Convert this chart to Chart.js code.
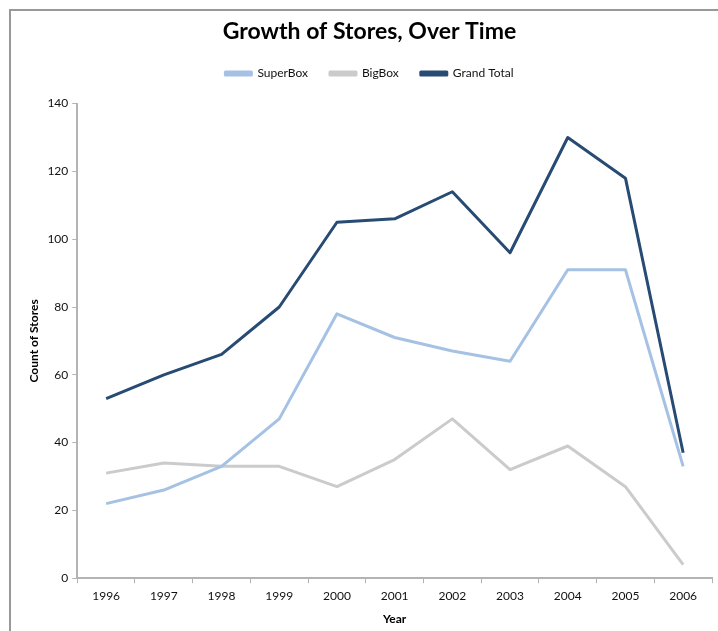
<!DOCTYPE html>
<html>
<head>
<meta charset="utf-8">
<script src="https://cdn.jsdelivr.net/npm/chart.js@4/dist/chart.umd.min.js"></script>
<style>
  html, body { margin: 0; padding: 0; background: #fff; }
  #wrap { width: 718px; height: 631px; }
</style>
</head>
<body>
<div id="wrap"><canvas id="chart" width="718" height="631"></canvas></div>
<script>
// years on the x axis
const years = ["1996", "1997", "1998", "1999", "2000", "2001", "2002", "2003", "2004", "2005", "2006"];
// store counts per year
const superBox = [22, 26, 33, 47, 78, 71, 67, 64, 91, 91, 33];
const bigBox = [31, 34, 33, 33, 27, 35, 47, 32, 39, 27, 4];
const grandTotal = [53, 60, 66, 80, 105, 106, 114, 96, 130, 118, 37];

const fontFamily = "Lato, 'Open Sans', sans-serif";
const axisColor = "#b4b4b4";

// grey frame round the chart, like the spreadsheet border
const framePlugin = {
  id: "frame",
  beforeDraw(chart) {
    const ctx = chart.ctx;
    ctx.save();
    ctx.fillStyle = "#fff";
    ctx.fillRect(0, 0, chart.width, chart.height);
    ctx.strokeStyle = "#999";
    ctx.lineWidth = 2;
    ctx.beginPath();
    ctx.moveTo(10, chart.height);
    ctx.lineTo(10, 10);
    ctx.lineTo(chart.width, 10);
    ctx.stroke();
    ctx.restore();
  }
};

// leave some room under the legend before the plot starts
const legendGap = {
  id: "legendGap",
  beforeUpdate(chart) {
    const legend = chart.legend;
    if (legend && !legend._gapPatched) {
      const fit = legend.fit;
      legend.fit = function () {
        fit.call(this);
        this.height += 14;
      };
      legend._gapPatched = true;
    }
  }
};

function lineSet(label, data, color) {
  return {
    "label": label,
    "data": data,
    "borderColor": color,
    "backgroundColor": color,
    "borderWidth": 3,
    "pointRadius": 0,
    "pointHoverRadius": 0,
    "fill": false,
    "tension": 0,
    "borderJoinStyle": "round",
  };
}

new Chart(document.getElementById("chart"), {
  "type": "line",
  "data": {
    "labels": years,
    "datasets": [
      lineSet("SuperBox", superBox, "#a5c2e4"),
      lineSet("BigBox", bigBox, "#cbcbcb"),
      lineSet("Grand Total", grandTotal, "#284b74"),
    ],
  },
  "options": {
    "responsive": false,
    "animation": false,
    "layout": {
      "padding": { "left": 27, "right": 6, "top": 14, "bottom": 5 },
    },
    "plugins": {
      "title": {
        "display": true,
        "text": "Growth of Stores, Over Time",
        "color": "#000",
        "font": { "family": fontFamily, "size": 23, "weight": "bold" },
        "padding": { "top": 4, "bottom": 0 },
      },
      "legend": {
        "position": "top",
        "labels": {
          "color": "#111",
          "font": { "family": fontFamily, "size": 12 },
          "boxWidth": 26,
          "boxHeight": 3,
          "padding": 22,
        },
      },
      "tooltip": { "enabled": false },
    },
    "scales": {
      "x": {
        "offset": true,
        "grid": {
          "drawOnChartArea": false,
          "drawTicks": true,
          "tickLength": 5,
          "color": axisColor,
          "offset": true,
        },
        "border": { "color": axisColor, "width": 2 },
        "ticks": {
          "color": "#111",
          "font": { "family": fontFamily, "size": 12 },
          "padding": 6,
          "maxRotation": 0,
        },
        "title": {
          "display": true,
          "text": "Year",
          "color": "#000",
          "font": { "family": fontFamily, "size": 12, "weight": "bold" },
          "padding": { "top": 2, "bottom": 0 },
        },
      },
      "y": {
        "min": 0,
        "max": 140,
        "grid": {
          "drawOnChartArea": false,
          "drawTicks": true,
          "tickLength": 5,
          "color": axisColor,
        },
        "border": { "color": axisColor, "width": 2 },
        "ticks": {
          "stepSize": 20,
          "color": "#111",
          "font": { "family": fontFamily, "size": 12 },
          "padding": 4,
        },
        "title": {
          "display": true,
          "text": "Count of Stores",
          "color": "#000",
          "font": { "family": fontFamily, "size": 12, "weight": "bold" },
          "padding": { "top": 0, "bottom": 2 },
        },
      },
    },
  },
  "plugins": [framePlugin, legendGap],
});
</script>
</body>
</html>
